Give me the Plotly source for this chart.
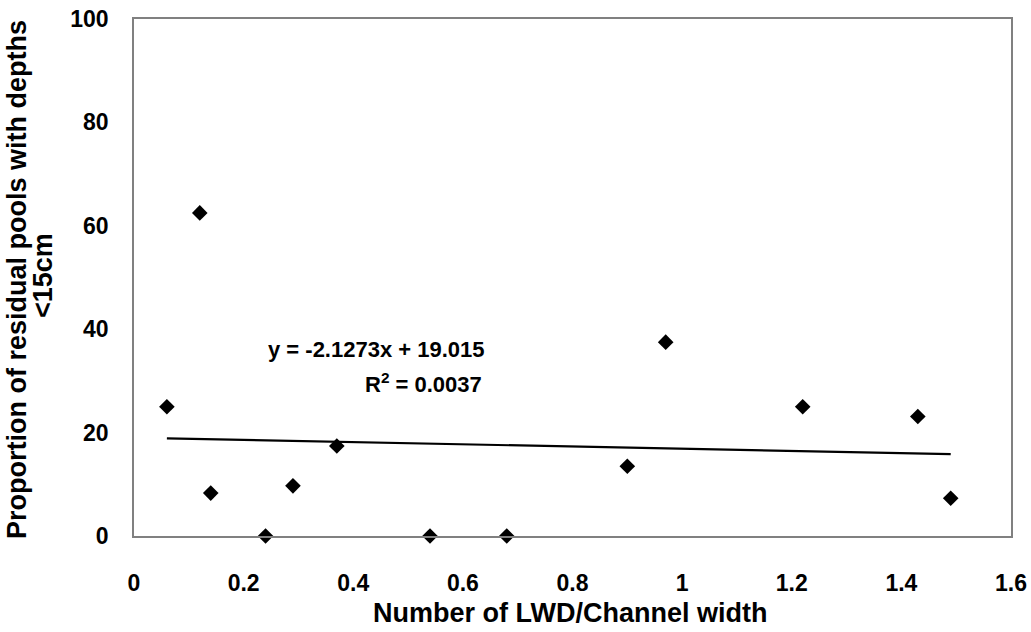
import numpy as np
import plotly.graph_objects as go

# LWD density vs share of shallow residual pools
lwd_per_width = [0.06, 0.12, 0.14, 0.24, 0.29, 0.37, 0.54, 0.68, 0.90, 0.97, 1.22, 1.43, 1.49]
pct_shallow = [25.0, 62.5, 8.3, 0.0, 9.7, 17.4, 0.0, 0.0, 13.5, 37.5, 25.0, 23.1, 7.3]

# Linear trendline coefficients
slope = -2.1273
intercept = 19.015
r_squared = 0.0037

x_ticks = [0, 0.2, 0.4, 0.6, 0.8, 1, 1.2, 1.4, 1.6]
y_ticks = [0, 20, 40, 60, 80, 100]

x_title = "Number of LWD/Channel width"
y_title_lines = ["Proportion of residual pools with depths", "<15cm"]

FONT = "Liberation Sans, Arial, sans-serif"

# Figure geometry (pixels)
W, H = 1031, 632
M_L, M_R, M_T, M_B = 134, 20, 19, 96
plot_w = W - M_L - M_R
plot_h = H - M_T - M_B


def px_to_paper(px_x, px_y):
    """Convert a pixel position (from top-left) into paper coordinates."""
    return (px_x - M_L) / plot_w, (H - px_y - M_B) / plot_h


trend_x = np.array([min(lwd_per_width), max(lwd_per_width)])
trend_y = slope * trend_x + intercept

fig = go.Figure()
fig.add_trace(go.Scatter(
    x=trend_x, y=trend_y, mode="lines",
    line=dict(color="black", width=2.2), hoverinfo="skip", showlegend=False,
))
fig.add_trace(go.Scatter(
    x=lwd_per_width, y=pct_shallow, mode="markers",
    marker=dict(symbol="diamond", size=12, color="black"),
    cliponaxis=False, showlegend=False,
))

# Trendline equation and R²
eq_font = dict(family=FONT, size=22, color="black", weight="bold")
fig.add_annotation(
    x=0.644, y=36.0, xref="x", yref="y", xanchor="right", yanchor="middle",
    text=f"y = {slope}x + {intercept}", showarrow=False, font=eq_font,
)
fig.add_annotation(
    x=0.639, y=29.5, xref="x", yref="y", xanchor="right", yanchor="middle",
    text=f"R<sup>2</sup> = {r_squared}", showarrow=False, font=eq_font,
)

# Axis titles
title_font = dict(family=FONT, size=27, color="black", weight="bold")
tx, ty = px_to_paper(570, 613)
fig.add_annotation(
    x=tx, y=ty, xref="paper", yref="paper", showarrow=False,
    text=x_title, font=title_font, xanchor="center", yanchor="middle",
)
for cx, cy, line in zip([17, 43], [280, 276], y_title_lines):
    ax, ay = px_to_paper(cx, cy)
    fig.add_annotation(
        x=ax, y=ay, xref="paper", yref="paper", showarrow=False,
        text=line, textangle=-90, font=title_font,
        xanchor="center", yanchor="middle",
    )

axis_common = dict(
    showgrid=False, zeroline=False, showline=True, mirror=True,
    linecolor="#808080", linewidth=1.5, ticks="", automargin=False,
    tickfont=dict(family=FONT, size=23, color="black", weight="bold"),
)

fig.update_xaxes(
    range=[0, 1.6], tickvals=x_ticks, ticktext=[f"{v:g}" for v in x_ticks],
    ticklabelstandoff=26, **axis_common,
)
fig.update_yaxes(
    range=[0, 100], tickvals=y_ticks, ticklabelstandoff=19, **axis_common,
)

fig.update_layout(
    width=W, height=H,
    margin=dict(l=M_L, r=M_R, t=M_T, b=M_B, autoexpand=False),
    paper_bgcolor="white", plot_bgcolor="white",
    font=dict(family=FONT, color="black"),
)

fig.write_html("out.html")
